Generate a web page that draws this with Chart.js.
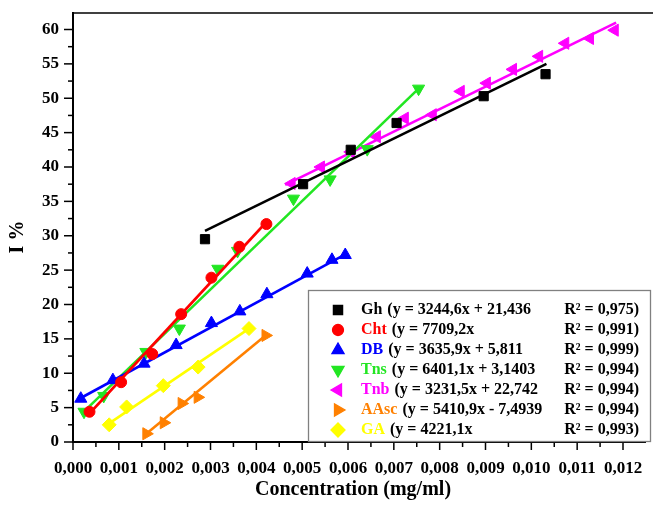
<!DOCTYPE html>
<html>
<head>
<meta charset="utf-8">
<script src="https://cdn.jsdelivr.net/npm/chart.js@4"></script>
<style>
  html, body { margin: 0; padding: 0; background: #fff; }
  #chart { display: block; }
</style>
</head>
<body>
<canvas id="chart" width="653" height="506"></canvas>
<script>
// measured points (concentration mg/ml, inhibition %)
var ghX = [0.00288, 0.00502, 0.00606, 0.00706, 0.00896, 0.01031];
var ghY = [29.5, 37.5, 42.5, 46.4, 50.3, 53.5];
var chtX = [0.00036, 0.00105, 0.00173, 0.00236, 0.00302, 0.00363, 0.00422];
var chtY = [4.4, 8.7, 12.8, 18.6, 23.9, 28.4, 31.7];
var dbX = [0.00017, 0.00087, 0.00155, 0.00225, 0.00302, 0.00364, 0.00423, 0.00511, 0.00565, 0.00594];
var dbY = [6.3, 9.0, 11.4, 14.1, 17.3, 19.0, 21.5, 24.5, 26.5, 27.2];
var tnsX = [0.00024, 0.00067, 0.00159, 0.00232, 0.00316, 0.00359, 0.00481, 0.00561, 0.00642, 0.00754];
var tnsY = [4.4, 6.7, 13.1, 16.5, 25.2, 27.8, 35.4, 38.2, 42.6, 51.4];
var tnbX = [0.00477, 0.00541, 0.00606, 0.00663, 0.00724, 0.00785, 0.00846, 0.00903, 0.00960, 0.01017, 0.01074, 0.01128, 0.01182];
var tnbY = [37.6, 40.0, 42.2, 44.4, 47.1, 47.6, 51.0, 52.2, 54.2, 56.1, 58.0, 58.7, 59.9];
var aascX = [0.00160, 0.00198, 0.00237, 0.00272, 0.00420];
var aascY = [1.2, 2.8, 5.6, 6.5, 15.5];
var gaX = [0.00079, 0.00117, 0.00197, 0.00273, 0.00384];
var gaY = [2.5, 5.1, 8.2, 10.9, 16.5];

// trend line end points
var ghLineX = [0.00288, 0.01033], ghLineY = [30.7, 55.0];
var chtLineX = [0.00034, 0.00422], chtLineY = [4.0, 32.0];
var dbLineX = [0.00017, 0.00594], dbLineY = [6.4, 27.3];
var tnsLineX = [0.00022, 0.00754], tnsLineY = [4.3, 51.4];
var tnbLineX = [0.00463, 0.01185], tnbLineY = [37.4, 61.0];
var aascLineX = [0.00160, 0.00420], aascLineY = [1.2, 15.5];
var gaLineX = [0.00079, 0.00384], gaLineY = [2.7, 16.5];

// legend text
var names = ['Gh', 'Cht', 'DB', 'Tns', 'Tnb', 'AAsc', 'GA'];
var equations = ['(y = 3244,6x + 21,436', '(y = 7709,2x', '(y = 3635,9x + 5,811', '(y = 6401,1x + 3,1403',
                 '(y = 3231,5x + 22,742', '(y = 5410,9x - 7,4939', '(y = 4221,1x'];
var r2 = ['0,975', '0,991', '0,999', '0,994', '0,994', '0,994', '0,993'];

var colors = ['#000000', '#ff0000', '#0000ff', '#22e622', '#ff00ff', '#ff8000', '#ffff00'];
var styles = ['rect', 'circle', 'triangle', 'triangle', 'triangle', 'triangle', 'rectRot'];
var rotations = [0, 0, 0, 180, 270, 90, 0];
var radii = [6.5, 5.5, 7, 7, 7, 7, 7];

var xs = [ghX, chtX, dbX, tnsX, tnbX, aascX, gaX];
var ys = [ghY, chtY, dbY, tnsY, tnbY, aascY, gaY];
var lxs = [ghLineX, chtLineX, dbLineX, tnsLineX, tnbLineX, aascLineX, gaLineX];
var lys = [ghLineY, chtLineY, dbLineY, tnsLineY, tnbLineY, aascLineY, gaLineY];

function pts(a, b) {
  return a.map(function (v, i) { return { x: v, y: b[i] }; });
}

var datasets = [];
for (var i = 0; i < names.length; i++) {
  datasets.push({
    label: names[i] + ' fit',
    data: pts(lxs[i], lys[i]),
    showLine: true,
    borderColor: colors[i],
    borderWidth: 2.6,
    pointRadius: 0,
    fill: false
  });
  datasets.push({
    label: names[i],
    data: pts(xs[i], ys[i]),
    showLine: false,
    backgroundColor: colors[i],
    borderColor: colors[i],
    borderWidth: 1,
    pointStyle: styles[i],
    rotation: rotations[i],
    pointRadius: radii[i]
  });
}

var FONT = "'Liberation Serif', 'Times New Roman', serif";

var decor = {
  id: 'decor',
  beforeDatasetsDraw: function (chart) {
    var ctx = chart.ctx, a = chart.chartArea;
    var xs_ = chart.scales.x, ys_ = chart.scales.y;
    ctx.save();
    ctx.strokeStyle = '#000';
    ctx.lineWidth = 1.5;
    // top frame line
    ctx.beginPath();
    ctx.moveTo(a.left, a.top);
    ctx.lineTo(653, a.top);
    ctx.stroke();
    // minor + major tick marks
    var k, v, p, len;
    for (k = 0; k <= 25; k++) {
      v = k * 0.0005;
      if (v > xs_.max) break;
      p = xs_.getPixelForValue(v);
      len = k % 2 === 0 ? 8 : 5;
      ctx.beginPath();
      ctx.moveTo(p, a.bottom);
      ctx.lineTo(p, a.bottom + len);
      ctx.stroke();
    }
    for (k = 0; k <= 25; k++) {
      v = k * 2.5;
      if (v > ys_.max) break;
      p = ys_.getPixelForValue(v);
      len = k % 2 === 0 ? 9 : 5;
      ctx.beginPath();
      ctx.moveTo(a.left, p);
      ctx.lineTo(a.left - len, p);
      ctx.stroke();
    }
    // axis titles
    ctx.fillStyle = '#000';
    ctx.font = 'bold 20px ' + FONT;
    ctx.textAlign = 'center';
    ctx.textBaseline = 'middle';
    ctx.fillText('Concentration (mg/ml)', 353, 490);
    ctx.save();
    ctx.translate(18, 237);
    ctx.rotate(-Math.PI / 2);
    ctx.fillText('I %', 0, 0);
    ctx.restore();
    ctx.restore();
  },
  afterDatasetsDraw: function (chart) {
    var ctx = chart.ctx;
    ctx.save();
    // legend box
    ctx.fillStyle = '#fff';
    ctx.fillRect(308, 290, 343, 151);
    ctx.strokeStyle = '#808080';
    ctx.lineWidth = 1.3;
    ctx.strokeRect(308.5, 290.5, 342, 151);
    ctx.font = 'bold 16px ' + FONT;
    ctx.textBaseline = 'middle';
    for (var i = 0; i < names.length; i++) {
      var y = 310 + i * 20;
      ctx.fillStyle = colors[i];
      ctx.strokeStyle = colors[i];
      Chart.helpers.drawPoint(ctx, {
        pointStyle: styles[i], radius: radii[i], rotation: rotations[i], borderWidth: 1
      }, 338, y);
      ctx.textAlign = 'left';
      ctx.fillText(names[i], 361, y);
      var w = ctx.measureText(names[i]).width;
      ctx.fillStyle = '#000';
      ctx.fillText(equations[i], 361 + w + 5, y);
      ctx.textAlign = 'right';
      ctx.fillText('R\u00b2 = ' + r2[i] + ')', 639, y);
    }
    ctx.restore();
  }
};

var ctx = document.getElementById('chart').getContext('2d');
var chart = new Chart(ctx, {
  type: 'scatter',
  data: { datasets: datasets },
  options: {
    responsive: false,
    animation: false,
    layout: { padding: { left: 0, top: 13, right: 0, bottom: 0 } },
    plugins: { legend: { display: false }, tooltip: { enabled: false } },
    scales: {
      x: {
        type: 'linear',
        min: 0,
        max: 0.01248,
        grid: { display: false },
        border: { display: true, color: '#000', width: 2 },
        ticks: {
          stepSize: 0.001,
          includeBounds: false,
          maxRotation: 0,
          autoSkip: false,
          padding: 8,
          color: '#000',
          font: { family: FONT, size: 17, weight: 'bold' },
          callback: function (v) { return v.toFixed(3).replace('.', ','); }
        },
        afterFit: function (s) { s.height = 64; s.paddingLeft = 0; s.paddingRight = 0; }
      },
      y: {
        type: 'linear',
        min: 0,
        max: 62.4,
        grid: { display: false },
        border: { display: true, color: '#000', width: 2 },
        ticks: {
          stepSize: 5,
          includeBounds: false,
          padding: 6,
          color: '#000',
          font: { family: FONT, size: 17, weight: 'bold' }
        },
        afterFit: function (s) { s.width = 73; s.paddingTop = 0; s.paddingBottom = 0; }
      }
    }
  },
  plugins: [decor]
});
</script>
</body>
</html>
